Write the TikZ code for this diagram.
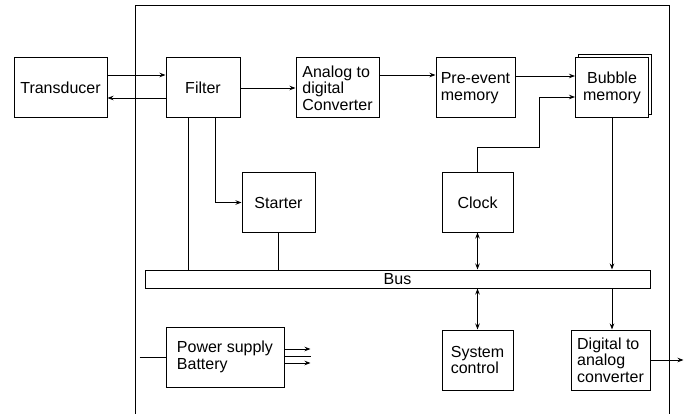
\documentclass[tikz,border=0pt]{standalone}
\usepackage{fontspec}
\setmainfont{Liberation Sans}
\usetikzlibrary{arrows.meta, calc, shadows}

\begin{document}
\begin{tikzpicture}[x=1pt, y=-1pt, >={Stealth[length=6pt, width=4.5pt]}, line width=0.9pt,
  every node/.style={font=\fontsize{16}{16.5}\selectfont},
  block/.style={draw, fill=white, align=left, inner sep=2pt, line width=1pt}]
  \useasboundingbox (0,0) rectangle (693,414);
  % enclosure
  \draw (135,414) -- (135,5) -- (669,5) -- (669,414);
  \node[block, minimum width=93pt, minimum height=60pt] (transducer) at (60.5,88) {Transducer};
  \node[block, minimum width=74pt, minimum height=60pt] (filter) at (203,88) {Filter};
  \node[block, minimum width=83pt, minimum height=60pt] (adc) at (337.5,88) {Analog to\\digital\\Converter};
  \node[block, minimum width=79pt, minimum height=60pt] (preevent) at (475.5,88) {Pre-event\\memory};
  \node[block, minimum width=73pt, minimum height=60pt, align=center, copy shadow={shadow xshift=3pt, shadow yshift=3pt}] (bubble) at (612,88) {Bubble\\memory};
  \node[block, minimum width=73pt, minimum height=59pt] (starter) at (278.5,202.5) {Starter};
  \node[block, minimum width=71pt, minimum height=59pt] (clock) at (477.5,202.5) {Clock};
  \node[block, minimum width=505pt, minimum height=18pt, inner sep=0pt] (bus) at (397.5,279) {Bus};
  \node[block, minimum width=118pt, minimum height=60pt] (power) at (225,357) {Power supply\\Battery};
  \node[block, minimum width=71pt, minimum height=60pt] (system) at (477.5,360) {System\\control};
  \node[block, minimum width=79pt, minimum height=60pt] (dac) at (610.5,360) {Digital to\\analog\\converter};
  % signal path
  \draw[->] ($(transducer.east)+(0,-13)$) -- ($(filter.west)+(0,-13)$);
  \draw[<-] ($(transducer.east)+(0,10)$) -- ($(filter.west)+(0,10)$);
  \draw[->] (filter) -- (adc);
  \draw[->] ($(adc.east)+(0,-13)$) -- ($(preevent.west)+(0,-13)$);
  \draw[->] ($(preevent.east)+(0,-12)$) -- ($(bubble.west)+(0,-12)$);
  \draw[->] (clock.north) -- ++(0,-25) -| ($(bubble.west)+(-36,9)$) -- ($(bubble.west)+(0,9)$);
  \draw[->] ($(filter.south)+(12,0)$) |- (starter.west);
  % bus lines
  \draw ($(filter.south)+(-15,0)$) coordinate (fbus) -- (fbus |- bus.north);
  \draw (starter.south) -- (starter.south |- bus.north);
  \draw[<->] (clock.south) -- (clock.south |- bus.north);
  \draw[->] (bubble.south) -- (bubble.south |- bus.north);
  \draw[<->] (system.north |- bus.south) -- (system.north);
  \draw[->] (bubble.south |- bus.south) -- (bubble.south |- dac.north);
  \draw[->] (dac.east) -- ++(33,0);
  % supply
  \draw ($(power.west)+(-26,0)$) -- (power.west);
  \draw[->] ($(power.east)+(0,-8)$) -- ++(26,0);
  \draw ($(power.east)+(0,-1)$) -- ++(26,0);
  \draw[->] ($(power.east)+(0,6)$) -- ++(26,0);
\end{tikzpicture}
\end{document}
